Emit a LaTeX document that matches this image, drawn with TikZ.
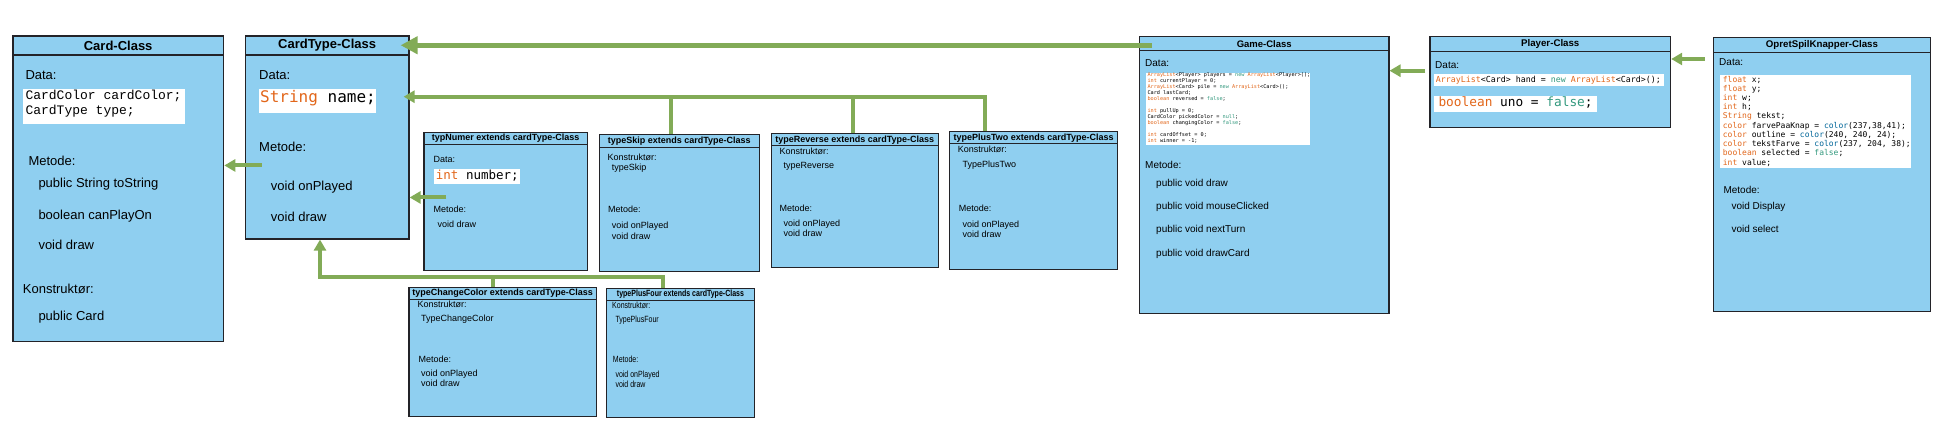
\documentclass[tikz,border=0pt]{standalone}
\usepackage{fontspec}
\setmainfont{Liberation Sans}
\newfontfamily\codefont{DejaVu Sans Mono}
\newfontfamily\courfont{Liberation Mono}
\newfontfamily\narrowfont[FakeStretch=0.78]{Liberation Sans}
\usepackage{xcolor}
\usepackage{tikz}
\usetikzlibrary{arrows.meta,positioning}

\definecolor{boxblue}{RGB}{143,207,240}
\definecolor{boxline}{RGB}{35,35,40}
\definecolor{linkgreen}{RGB}{130,171,87}
\definecolor{kwcol}{RGB}{226,102,26}
\definecolor{litcol}{RGB}{51,153,126}
\definecolor{fncol}{RGB}{0,102,153}

\begin{document}
\begin{tikzpicture}[
    x=1pt, y=-1pt,
    classbox/.style={draw=boxline, fill=boxblue, line width=1.2pt, anchor=north west, inner sep=0pt},
    classhead/.style={classbox, font=\bfseries\fontsize{9}{11}\selectfont},
    bighead/.style={classbox, line width=1.6pt, font=\bfseries\fontsize{13}{15}\selectfont},
    bigtxt/.style={anchor=mid west, inner sep=0pt, font=\fontsize{13}{15}\selectfont},
    midtxt/.style={anchor=mid west, inner sep=0pt, font=\fontsize{10}{12}\selectfont},
    smalltxt/.style={anchor=mid west, inner sep=0pt, font=\fontsize{9}{11}\selectfont},
    narrowtxt/.style={anchor=mid west, inner sep=0pt, font=\narrowfont\fontsize{9}{11}\selectfont},
    codebg/.style={fill=white, anchor=north west, inner sep=0pt},
    codetxt/.style={anchor=mid west, inner sep=0pt},
    codeblock/.style={anchor=north west, inner sep=0pt, align=left},
    link/.style={draw=linkgreen, line width=4pt},
    inherit/.style={link, -{Triangle[length=11pt,width=12pt]}},
    inheritbig/.style={link, line width=4.6pt, -{Triangle[length=17pt,width=17pt]}}
]
    \useasboundingbox (0,0) rectangle (1948,438);

    % Card-Class
    \node[classbox, line width=1.6pt, minimum width=210.7pt, minimum height=305.4pt] (card) at (12,35.3) {};
    \node[bighead, minimum width=210.7pt, minimum height=19pt] (cardhead) at (card.north west) {Card-Class};
    \node[bigtxt] (cardData) at (25.3,77.3) {Data:};
    \node[codebg, minimum width=162.3pt, minimum height=34.7pt] (cardCodeBg) at (22.7,89) {};
    \node[codetxt, font=\courfont\fontsize{13}{15}\selectfont] (cardCode1) at (25.3,97.3) {CardColor cardColor;};
    \node[codetxt, font=\courfont\fontsize{13}{15}\selectfont] (cardCode2) at (25.3,112.3) {CardType type;};
    \node[bigtxt] (cardMet) at (28.3,162.7) {Metode:};
    \node[bigtxt] (cardM1) at (38.3,185) {public String toString};
    \node[bigtxt] (cardM2) at (38.3,216.7) {boolean canPlayOn};
    \node[bigtxt] (cardM3) at (38.3,247.3) {void draw};
    \node[bigtxt] (cardKon) at (22.7,290.7) {Konstruktør:};
    \node[bigtxt] (cardK1) at (38.3,318.3) {public Card};

    % CardType-Class
    \node[classbox, line width=1.6pt, minimum width=163.3pt, minimum height=202.7pt] (ctype) at (244.7,35.3) {};
    \node[bighead, minimum width=163.3pt, minimum height=18.7pt] (ctypehead) at (ctype.north west) {CardType-Class};
    \node[bigtxt] (ctypeData) at (259,77.3) {Data:};
    \node[codebg, minimum width=117.3pt, minimum height=24pt] (ctypeCodeBg) at (258.7,89) {};
    \node[codetxt, font=\codefont\fontsize{16}{18}\selectfont] (ctypeCode) at (260,100) {\textcolor{kwcol}{String} name;};
    \node[bigtxt] (ctypeMet) at (259,149.3) {Metode:};
    \node[bigtxt] (ctypeM1) at (270.7,187.7) {void onPlayed};
    \node[bigtxt] (ctypeM2) at (270.7,219.3) {void draw};

    % subclasses
    \node[classbox, minimum width=163.4pt, minimum height=138.3pt] (numer) at (423.3,131.7) {};
    \node[classhead, minimum width=163.4pt, minimum height=12.6pt] (numerhead) at (numer.north west) {typNumer extends cardType-Class};
    \node[smalltxt] (numerData) at (433.3,160.3) {Data:};
    \node[codebg, minimum width=86.7pt, minimum height=15.6pt] (numerCodeBg) at (433.3,168.7) {};
    \node[codetxt, font=\codefont\fontsize{12.5}{14}\selectfont] (numerCode) at (435.7,176.5) {\textcolor{kwcol}{int} number;};
    \node[smalltxt] (numerMet) at (433.3,210) {Metode:};
    \node[smalltxt] (numerM1) at (437.3,225.3) {void draw};

    \node[classbox, minimum width=160pt, minimum height=136.7pt] (skip) at (598.7,134) {};
    \node[classhead, minimum width=160pt, minimum height=12.7pt] (skiphead) at (skip.north west) {typeSkip extends cardType-Class};
    \node[smalltxt] (skipKon) at (607.3,158.3) {Konstruktør:};
    \node[smalltxt] (skipK1) at (611.7,167.7) {typeSkip};
    \node[smalltxt] (skipMet) at (608,210.3) {Metode:};
    \node[smalltxt] (skipM1) at (611.7,226.3) {void onPlayed};
    \node[smalltxt] (skipM2) at (611.7,237) {void draw};

    \node[classbox, minimum width=167pt, minimum height=133.4pt] (reverse) at (770.7,133.3) {};
    \node[classhead, minimum width=167pt, minimum height=11.7pt] (reversehead) at (reverse.north west) {typeReverse extends cardType-Class};
    \node[smalltxt] (revKon) at (779.3,152.3) {Konstruktør:};
    \node[smalltxt] (revK1) at (783.3,166) {typeReverse};
    \node[smalltxt] (revMet) at (779.3,208.7) {Metode:};
    \node[smalltxt] (revM1) at (783.3,224) {void onPlayed};
    \node[smalltxt] (revM2) at (783.3,234) {void draw};

    \node[classbox, minimum width=168pt, minimum height=138.3pt] (plustwo) at (949,131) {};
    \node[classhead, minimum width=168pt, minimum height=12.3pt] (plustwohead) at (plustwo.north west) {typePlusTwo extends cardType-Class};
    \node[smalltxt] (twoKon) at (957.7,150) {Konstruktør:};
    \node[smalltxt] (twoK1) at (962.3,165.3) {TypePlusTwo};
    \node[smalltxt] (twoMet) at (958.7,209) {Metode:};
    \node[smalltxt] (twoM1) at (962.3,224.7) {void onPlayed};
    \node[smalltxt] (twoM2) at (962.3,235.3) {void draw};

    \node[classbox, minimum width=187.4pt, minimum height=129pt] (chcolor) at (408.3,286.7) {};
    \node[classhead, minimum width=187.4pt, minimum height=12pt] (chcolorhead) at (chcolor.north west) {typeChangeColor extends cardType-Class};
    \node[smalltxt] (colKon) at (417.3,304.7) {Konstruktør:};
    \node[smalltxt] (colK1) at (421,319) {TypeChangeColor};
    \node[smalltxt] (colMet) at (418.3,359.7) {Metode:};
    \node[smalltxt] (colM1) at (421,374) {void onPlayed};
    \node[smalltxt] (colM2) at (421,384) {void draw};

    \node[classbox, minimum width=148.3pt, minimum height=129pt] (plusfour) at (605.7,287.7) {};
    \node[classhead, minimum width=148.3pt, minimum height=12pt, font=\narrowfont\bfseries\fontsize{9}{11}\selectfont] (plusfourhead) at (plusfour.north west) {typePlusFour extends cardType-Class};
    \node[narrowtxt] (fourKon) at (612,305.7) {Konstruktør:};
    \node[narrowtxt] (fourK1) at (615.3,320) {TypePlusFour};
    \node[narrowtxt] (fourMet) at (612.7,360) {Metode:};
    \node[narrowtxt] (fourM1) at (615.3,374.7) {void onPlayed};
    \node[narrowtxt] (fourM2) at (615.3,384.7) {void draw};

    % Game-Class
    \node[classbox, minimum width=249.3pt, minimum height=276.7pt] (game) at (1139,36) {};
    \node[classhead, minimum width=249.3pt, minimum height=14.3pt, font=\bfseries\fontsize{9.5}{11}\selectfont] (gamehead) at (game.north west) {Game-Class};
    \node[midtxt] (gameData) at (1145,64.3) {Data:};
    \node[codebg, minimum width=164pt, minimum height=72pt] (gameCodeBg) at (1146,72.7) {};
    \node[codeblock, font=\codefont\fontsize{5.2}{6}\selectfont] (gameCode) at (1147.3,72.4) {%
        \textcolor{kwcol}{ArrayList}<Player> players = \textcolor{litcol}{new} \textcolor{kwcol}{ArrayList}<Player>();\\
        \textcolor{kwcol}{int} currentPlayer = 0;\\
        \textcolor{kwcol}{ArrayList}<Card> pile = \textcolor{litcol}{new} \textcolor{kwcol}{ArrayList}<Card>();\\
        Card lastCard;\\
        \textcolor{kwcol}{boolean} reversed = \textcolor{litcol}{false};\\[6pt]
        \textcolor{kwcol}{int} pullUp = 0;\\
        CardColor pickedColor = \textcolor{litcol}{null};\\
        \textcolor{kwcol}{boolean} changingColor = \textcolor{litcol}{false};\\[6pt]
        \textcolor{kwcol}{int} cardOffset = 0;\\
        \textcolor{kwcol}{int} winner = -1;};
    \node[midtxt] (gameMet) at (1145,165.7) {Metode:};
    \node[midtxt] (gameM1) at (1156,184) {public void draw};
    \node[midtxt] (gameM2) at (1156,207) {public void mouseClicked};
    \node[midtxt] (gameM3) at (1156,230.3) {public void nextTurn};
    \node[midtxt] (gameM4) at (1156,253.7) {public void drawCard};

    % Player-Class
    \node[classbox, minimum width=240.7pt, minimum height=91pt] (player) at (1429.3,36) {};
    \node[classhead, minimum width=240.7pt, minimum height=14.7pt, font=\bfseries\fontsize{9.7}{11}\selectfont] (playerhead) at (player.north west) {Player-Class};
    \node[midtxt] (playerData) at (1435,65.7) {Data:};
    \node[codebg, minimum width=230pt, minimum height=11.7pt] (playerCodeBg1) at (1434,74) {};
    \node[codetxt, font=\codefont\fontsize{8.3}{10}\selectfont] (playerCode1) at (1435.7,79.6) {\textcolor{kwcol}{ArrayList}<Card> hand = \textcolor{litcol}{new} \textcolor{kwcol}{ArrayList}<Card>();};
    \node[codebg, minimum width=162.7pt, minimum height=16.3pt] (playerCodeBg2) at (1434,96) {};
    \node[codetxt, font=\codefont\fontsize{12.8}{14}\selectfont] (playerCode2) at (1438.3,104) {\textcolor{kwcol}{boolean} uno = \textcolor{litcol}{false};};

    % OpretSpilKnapper-Class
    \node[classbox, minimum width=217.3pt, minimum height=273.4pt] (opret) at (1712.7,37.3) {};
    \node[classhead, minimum width=217.3pt, minimum height=14.4pt, font=\bfseries\fontsize{9.7}{11}\selectfont] (opterhead) at (opret.north west) {OpretSpilKnapper-Class};
    \node[midtxt] (opretData) at (1719,63.3) {Data:};
    \node[codebg, minimum width=191.4pt, minimum height=93.3pt] (opretCodeBg) at (1719.3,75) {};
    \node[codeblock, font=\codefont\fontsize{8}{9.22}\selectfont] (opretCode) at (1722.7,75.8) {%
        \textcolor{kwcol}{float} x;\\
        \textcolor{kwcol}{float} y;\\
        \textcolor{kwcol}{int} w;\\
        \textcolor{kwcol}{int} h;\\
        \textcolor{kwcol}{String} tekst;\\
        \textcolor{kwcol}{color} farvePaaKnap = \textcolor{fncol}{color}(237,38,41);\\
        \textcolor{kwcol}{color} outline = \textcolor{fncol}{color}(240, 240, 24);\\
        \textcolor{kwcol}{color} tekstFarve = \textcolor{fncol}{color}(237, 204, 38);\\
        \textcolor{kwcol}{boolean} selected = \textcolor{litcol}{false};\\
        \textcolor{kwcol}{int} value;};
    \node[midtxt] (opretMet) at (1723.3,190.7) {Metode:};
    \node[midtxt] (opretM1) at (1731.3,207.3) {void Display};
    \node[midtxt] (opretM2) at (1731.3,230.3) {void select};

    % connectors
    \coordinate (topbus) at (985,96.7);
    \coordinate (lowbus) at (493.3,277.3);

    \draw[inheritbig, shorten >=-9pt] ([xshift=13pt,yshift=-1.5pt]gamehead.west) coordinate (g1) -- (g1 -| ctypehead.east);
    \draw[inherit, shorten >=-6pt] ([xshift=36pt]plustwo.north west) -- (topbus) -- (topbus -| ctype.east);
    \draw[link] ([xshift=72pt]skip.north west) coordinate (s1) -- (s1 |- topbus);
    \draw[link] ([xshift=82pt]reverse.north west) coordinate (r1) -- (r1 |- topbus);
    \draw[inherit] ([xshift=23pt,yshift=4pt]numer.west) coordinate (n1) -- (n1 -| ctype.east);
    \draw[inherit] ([xshift=17pt,yshift=-28pt]ctype.west) coordinate (c1) -- (c1 -| card.east);
    \draw[inherit] ([xshift=-4pt,yshift=-34.7pt]player.north west) coordinate (p1) -- (p1 -| game.east);
    \draw[inherit] ([xshift=-8pt,yshift=-21.7pt]opret.north west) coordinate (o1) -- (o1 -| player.east);
    \draw[inherit] ([xshift=85pt]chcolor.north west) -- (lowbus) -| ([xshift=75.3pt]ctype.south west);
    \draw[link] ([xshift=57pt]plusfour.north west) |- (lowbus);
\end{tikzpicture}
\end{document}
